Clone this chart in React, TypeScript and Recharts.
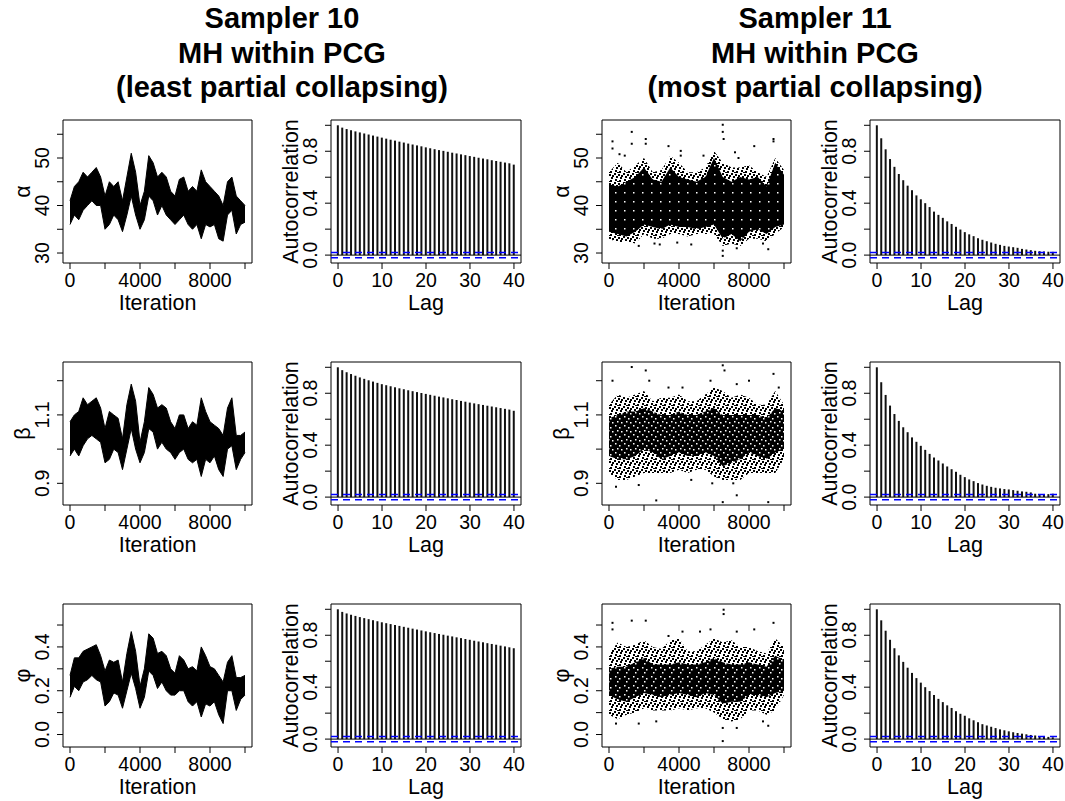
import React from "react";
import {
  ComposedChart,
  Area,
  Bar,
  Scatter,
  XAxis,
  YAxis,
  ReferenceLine,
  ReferenceArea,
} from "recharts";

const FONT = '"Liberation Sans", Arial, Helvetica, sans-serif';

// ---- iteration grids and lags ----
const ITER_250 = [
  0, 250, 500, 750, 1000, 1250, 1500, 1750, 2000, 2250, 2500, 2750, 3000, 3250, 3500, 3750, 4000,
  4250, 4500, 4750, 5000, 5250, 5500, 5750, 6000, 6250, 6500, 6750, 7000, 7250, 7500, 7750, 8000,
  8250, 8500, 8750, 9000, 9250, 9500, 9750, 10000,
];
const ITER_500 = [
  0, 500, 1000, 1500, 2000, 2500, 3000, 3500, 4000, 4500, 5000, 5500, 6000, 6500, 7000, 7500, 8000,
  8500, 9000, 9500, 10000,
];
const LAGS = [
  0, 1, 2, 3, 4, 5, 6, 7, 8, 9, 10, 11, 12, 13, 14, 15, 16, 17, 18, 19, 20, 21, 22, 23, 24, 25, 26,
  27, 28, 29, 30, 31, 32, 33, 34, 35, 36, 37, 38, 39, 40,
];

// ---- Sampler 10 traces (band low / high every 250 iterations) ----
const S10_ALPHA_LO = [36, 38, 37, 39, 40, 41, 40, 40, 35, 36, 38, 37, 34.5, 38, 42, 38, 35, 37, 42, 41, 38, 40, 38, 37, 36, 37, 38, 36, 35, 36, 33, 36, 35.5, 36, 33, 32.5, 38, 39, 34, 36, 36.5];
const S10_ALPHA_HI = [41, 44, 45, 47, 46, 47, 48, 46, 42, 45, 44, 45, 41, 46, 51, 47, 40, 43, 50.5, 49, 46, 47, 46, 43, 42, 45.5, 46, 43, 44, 43, 47.5, 45, 44, 43, 42, 40, 45, 46, 42, 41, 40];
const S10_BETA_LO = [0.98, 1.0, 0.98, 1.01, 1.03, 1.04, 1.03, 1.02, 0.96, 0.97, 1.0, 0.99, 0.94, 1.0, 1.06, 1.0, 0.96, 0.99, 1.06, 1.05, 1.0, 1.02, 1.0, 0.99, 0.97, 0.99, 1.0, 0.97, 0.96, 0.97, 0.92, 0.97, 0.96, 0.98, 0.94, 0.92, 1.0, 1.01, 0.94, 0.97, 0.99];
const S10_BETA_HI = [1.08, 1.1, 1.11, 1.15, 1.13, 1.14, 1.15, 1.12, 1.06, 1.11, 1.1, 1.09, 1.03, 1.13, 1.19, 1.14, 1.02, 1.08, 1.18, 1.16, 1.12, 1.13, 1.12, 1.08, 1.06, 1.1, 1.1, 1.06, 1.08, 1.07, 1.15, 1.11, 1.08, 1.07, 1.06, 1.04, 1.12, 1.15, 1.04, 1.04, 1.05];
const S10_PHI_LO = [0.17, 0.22, 0.2, 0.24, 0.25, 0.27, 0.25, 0.24, 0.13, 0.15, 0.19, 0.18, 0.12, 0.2, 0.28, 0.21, 0.12, 0.17, 0.29, 0.27, 0.21, 0.24, 0.2, 0.18, 0.18, 0.2, 0.2, 0.15, 0.13, 0.15, 0.08, 0.14, 0.13, 0.15, 0.09, 0.05, 0.2, 0.2, 0.11, 0.16, 0.18];
const S10_PHI_HI = [0.27, 0.35, 0.35, 0.38, 0.39, 0.4, 0.41, 0.36, 0.29, 0.34, 0.33, 0.34, 0.24, 0.37, 0.47, 0.38, 0.22, 0.3, 0.46, 0.44, 0.37, 0.38, 0.36, 0.3, 0.28, 0.36, 0.34, 0.3, 0.31, 0.29, 0.4, 0.36, 0.31, 0.3, 0.27, 0.24, 0.33, 0.36, 0.26, 0.26, 0.27];

// ---- Sampler 11 traces (dense core and sparse outer cloud every 500 iterations) ----
const S11_ALPHA_CORE_LO = [34.5, 34, 33.5, 34.5, 36, 35.5, 35, 36, 35.5, 35.5, 35, 35.5, 36, 33, 34, 32.5, 34.5, 35, 34, 35.5, 36];
const S11_ALPHA_CORE_HI = [44.5, 44, 45, 46, 48, 45.5, 45, 48, 46, 45.5, 45, 46, 50, 46, 45, 46, 45.5, 46, 44, 49, 46.5];
const S11_ALPHA_OUT_LO = [33, 32.2, 32.5, 32, 34, 33, 33, 34, 34, 33.5, 34, 34, 34, 31.5, 32, 31.5, 33, 33, 32.5, 34, 35.5];
const S11_ALPHA_OUT_HI = [47, 49, 47, 48.5, 50, 47, 47.5, 50.5, 49, 47, 47, 48, 51.5, 49, 48, 48, 48.5, 47, 46, 50, 47.5];
const S11_ALPHA_DOT_X = [200, 200, 600, 900, 1300, 1300, 1700, 2100, 2100, 2600, 2900, 3400, 3900, 4100, 4100, 4700, 5400, 6500, 6500, 6550, 6500, 6500, 7200, 7300, 7400, 8300, 8800, 9100, 9400, 9400];
const S11_ALPHA_DOT_Y = [53.5, 52, 50.8, 50.5, 55.5, 53, 31.5, 54, 53, 32, 31.8, 52.5, 32.2, 51.5, 50.5, 31.8, 50.5, 57, 55.5, 54, 30.5, 29.4, 51.2, 31, 50, 52.5, 32, 30.8, 54, 53.5];

const S11_BETA_CORE_LO = [0.98, 0.97, 0.97, 0.98, 1.0, 0.99, 0.97, 0.98, 0.99, 0.98, 0.98, 0.99, 0.98, 0.95, 0.96, 0.97, 0.99, 0.98, 0.97, 0.99, 1.0];
const S11_BETA_CORE_HI = [1.09, 1.1, 1.11, 1.11, 1.12, 1.11, 1.1, 1.1, 1.11, 1.1, 1.1, 1.11, 1.12, 1.1, 1.1, 1.1, 1.1, 1.1, 1.09, 1.12, 1.11];
const S11_BETA_OUT_LO = [0.93, 0.91, 0.91, 0.92, 0.93, 0.93, 0.93, 0.93, 0.94, 0.93, 0.94, 0.94, 0.92, 0.91, 0.91, 0.91, 0.93, 0.93, 0.93, 0.93, 0.97];
const S11_BETA_OUT_HI = [1.13, 1.16, 1.15, 1.16, 1.17, 1.14, 1.15, 1.15, 1.16, 1.14, 1.14, 1.16, 1.18, 1.17, 1.15, 1.16, 1.15, 1.13, 1.13, 1.17, 1.13];
const S11_BETA_DOT_X = [200, 400, 1300, 1700, 2100, 2300, 2700, 3400, 4200, 4700, 5800, 5900, 6500, 6500, 6600, 7100, 7300, 7300, 8000, 9100, 9400, 9700];
const S11_BETA_DOT_Y = [1.2, 0.89, 1.24, 0.895, 1.23, 1.2, 0.85, 1.18, 1.18, 0.91, 1.2, 0.9, 1.245, 0.845, 1.23, 0.9, 1.19, 0.865, 1.2, 0.845, 1.22, 1.18];

const S11_PHI_CORE_LO = [0.18, 0.16, 0.15, 0.17, 0.19, 0.18, 0.17, 0.18, 0.19, 0.18, 0.17, 0.19, 0.18, 0.14, 0.15, 0.15, 0.18, 0.18, 0.17, 0.19, 0.2];
const S11_PHI_CORE_HI = [0.3, 0.31, 0.31, 0.33, 0.35, 0.32, 0.32, 0.32, 0.33, 0.32, 0.32, 0.33, 0.35, 0.33, 0.32, 0.32, 0.33, 0.32, 0.31, 0.36, 0.34];
const S11_PHI_OUT_LO = [0.09, 0.07, 0.09, 0.1, 0.12, 0.11, 0.11, 0.11, 0.12, 0.11, 0.12, 0.12, 0.1, 0.07, 0.06, 0.07, 0.11, 0.11, 0.09, 0.11, 0.18];
const S11_PHI_OUT_HI = [0.37, 0.42, 0.4, 0.41, 0.43, 0.4, 0.39, 0.43, 0.44, 0.38, 0.38, 0.41, 0.44, 0.42, 0.43, 0.4, 0.4, 0.38, 0.37, 0.44, 0.4];
const S11_PHI_DOT_X = [200, 200, 400, 1300, 1700, 2100, 2700, 3400, 4200, 5200, 5800, 6500, 6500, 6550, 6550, 7300, 7300, 8300, 8800, 9100, 9400];
const S11_PHI_DOT_Y = [0.51, 0.48, 0.05, 0.52, 0.05, 0.52, 0.06, 0.45, 0.47, 0.47, 0.48, -0.03, 0.03, 0.57, 0.55, 0.03, 0.47, 0.48, 0.06, 0.04, 0.51];

// ---- autocorrelations, lags 0..40 ----
const ACF10_ALPHA = [1.0, 0.982, 0.971, 0.962, 0.953, 0.945, 0.937, 0.929, 0.921, 0.913, 0.905, 0.897, 0.889, 0.882, 0.874, 0.867, 0.859, 0.852, 0.845, 0.838, 0.83, 0.823, 0.816, 0.809, 0.803, 0.796, 0.789, 0.783, 0.776, 0.77, 0.763, 0.757, 0.75, 0.744, 0.738, 0.731, 0.725, 0.719, 0.713, 0.707, 0.697];
const ACF10_BETA = [1.0, 0.978, 0.962, 0.948, 0.935, 0.922, 0.911, 0.9, 0.89, 0.88, 0.87, 0.862, 0.854, 0.846, 0.838, 0.831, 0.823, 0.816, 0.809, 0.802, 0.795, 0.788, 0.781, 0.774, 0.768, 0.761, 0.754, 0.748, 0.741, 0.735, 0.728, 0.722, 0.716, 0.71, 0.704, 0.698, 0.692, 0.686, 0.68, 0.674, 0.665];
const ACF10_PHI = [1.0, 0.98, 0.968, 0.958, 0.949, 0.94, 0.932, 0.924, 0.916, 0.908, 0.9, 0.893, 0.886, 0.879, 0.872, 0.865, 0.858, 0.851, 0.844, 0.837, 0.83, 0.823, 0.817, 0.81, 0.804, 0.797, 0.791, 0.784, 0.778, 0.771, 0.765, 0.758, 0.752, 0.746, 0.739, 0.733, 0.727, 0.72, 0.714, 0.707, 0.7];
const ACF11_ALPHA = [1.0, 0.9, 0.815, 0.74, 0.68, 0.625, 0.577, 0.535, 0.5, 0.46, 0.43, 0.4, 0.37, 0.335, 0.31, 0.287, 0.26, 0.24, 0.218, 0.197, 0.177, 0.16, 0.146, 0.13, 0.118, 0.107, 0.097, 0.087, 0.079, 0.071, 0.066, 0.061, 0.056, 0.048, 0.043, 0.038, 0.033, 0.03, 0.028, 0.026, 0.025];
const ACF11_BETA = [1.0, 0.885, 0.787, 0.705, 0.64, 0.587, 0.538, 0.5, 0.46, 0.426, 0.395, 0.364, 0.333, 0.305, 0.282, 0.259, 0.236, 0.215, 0.195, 0.172, 0.154, 0.136, 0.123, 0.108, 0.097, 0.087, 0.079, 0.072, 0.067, 0.062, 0.059, 0.054, 0.049, 0.044, 0.041, 0.036, 0.026, 0.023, 0.02, 0.023, 0.026];
const ACF11_PHI = [1.0, 0.915, 0.835, 0.765, 0.7, 0.645, 0.595, 0.55, 0.51, 0.47, 0.435, 0.4, 0.37, 0.34, 0.31, 0.285, 0.26, 0.24, 0.215, 0.195, 0.18, 0.16, 0.145, 0.13, 0.115, 0.105, 0.095, 0.085, 0.075, 0.068, 0.06, 0.053, 0.047, 0.042, 0.037, 0.032, 0.028, 0.024, 0.02, 0.017, 0.014];

const CONF = 0.02; // 2/sqrt(10000)

const TITLES_10 = ["Sampler 10", "MH within PCG", "(least partial collapsing)"];
const TITLES_11 = ["Sampler 11", "MH within PCG", "(most partial collapsing)"];

// ---- axis setups ----
type AxisSpec = { domain: [number, number]; ticks: number[]; labels: Record<string, string> };

const X_ITER: AxisSpec = { domain: [-400, 10400], ticks: [0, 2000, 4000, 6000, 8000, 10000], labels: { "0": "0", "4000": "4000", "8000": "8000" } };
const X_LAG: AxisSpec = { domain: [-1.6, 41.6], ticks: [0, 10, 20, 30, 40], labels: { "0": "0", "10": "10", "20": "20", "30": "30", "40": "40" } };
const Y_ACF: AxisSpec = { domain: [-0.0608, 1.0408], ticks: [0, 0.2, 0.4, 0.6, 0.8, 1.0], labels: { "0": "0.0", "0.4": "0.4", "0.8": "0.8" } };
const Y_ALPHA: AxisSpec = { domain: [27.9, 58.0], ticks: [30, 35, 40, 45, 50, 55], labels: { "30": "30", "40": "40", "50": "50" } };
const Y_BETA: AxisSpec = { domain: [0.8366, 1.2547], ticks: [0.9, 1.0, 1.1, 1.2], labels: { "0.9": "0.9", "1.1": "1.1" } };
const Y_PHI: AxisSpec = { domain: [-0.057, 0.596], ticks: [0, 0.1, 0.2, 0.3, 0.4, 0.5], labels: { "0": "0.0", "0.2": "0.2", "0.4": "0.4" } };

const COL_X = { tr10: 63, acf10: 331, tr11: 602, acf11: 870 };
const ROW_Y = [120, 362, 604];
const BOX_H = 143;
const TICK_FS = 19.5;
const LAB_FS = 21.5;

const fmtKey = (v: number) => String(Math.round(v * 1000) / 1000);

function Frame({
  left,
  top,
  w,
  data,
  xs,
  ys,
  xTitle,
  yTitle,
  children,
}: {
  left: number;
  top: number;
  w: number;
  data: any[];
  xs: AxisSpec;
  ys: AxisSpec;
  xTitle: string;
  yTitle: string;
  children: React.ReactNode;
}) {
  const YW = 60;
  const XH = 56;
  const MT = 10;
  const MR = 10;
  return (
    <div style={{ position: "absolute", left: left - YW, top: top - MT }}>
      <ComposedChart
        width={YW + w + MR}
        height={MT + BOX_H + XH}
        data={data}
        margin={{ top: MT, right: MR, bottom: 0, left: 0 }}
      >
        <XAxis
          type="number"
          dataKey="x"
          domain={xs.domain}
          ticks={xs.ticks}
          interval={0}
          allowDataOverflow
          height={XH}
          axisLine={false}
          tickSize={6}
          tickMargin={2}
          stroke="#000"
          tick={(p: any) => (
            <text x={p.x} y={p.y + 16} textAnchor="middle" fontSize={TICK_FS} fontFamily={FONT} fill="#000">
              {xs.labels[fmtKey(p.payload.value)] ?? ""}
            </text>
          )}
          label={(p: any) => {
            const vb = p.viewBox;
            return (
              <text x={vb.x + vb.width / 2} y={vb.y + 47} textAnchor="middle" fontSize={LAB_FS} fontFamily={FONT} fill="#000">
                {xTitle}
              </text>
            );
          }}
        />
        <YAxis
          type="number"
          dataKey="y"
          domain={ys.domain}
          ticks={ys.ticks}
          interval={0}
          allowDataOverflow
          width={YW}
          axisLine={false}
          tickSize={6}
          tickMargin={2}
          stroke="#000"
          tick={(p: any) => (
            <text
              x={p.x - 6}
              y={p.y}
              transform={`rotate(-90 ${p.x - 6} ${p.y})`}
              textAnchor="middle"
              fontSize={TICK_FS}
              fontFamily={FONT}
              fill="#000"
            >
              {ys.labels[fmtKey(p.payload.value)] ?? ""}
            </text>
          )}
          label={(p: any) => {
            const vb = p.viewBox;
            const tx = vb.x + vb.width - 33;
            const ty = vb.y + vb.height / 2;
            return (
              <text x={tx} y={ty} transform={`rotate(-90 ${tx} ${ty})`} textAnchor="middle" fontSize={LAB_FS} fontFamily={FONT} fill="#000">
                {yTitle}
              </text>
            );
          }}
        />
        {children}
        <ReferenceArea
          x1={xs.domain[0]}
          x2={xs.domain[1]}
          y1={ys.domain[0]}
          y2={ys.domain[1]}
          fill="none"
          stroke="#000"
          strokeWidth={1}
          ifOverflow="visible"
        />
      </ComposedChart>
    </div>
  );
}

const dotShape = (p: any) => <rect x={p.cx - 1} y={p.cy - 1} width={2} height={2} fill="#000" />;

// speckle textures that stand in for thousands of overplotted draws
const SPARSE_SPECKS = [
  [0, 0], [4, 1], [2, 3], [6, 4], [1, 6], [5, 7], [3, 8], [7, 2],
];
const CORE_HOLES = [
  [1, 1], [5, 3], [3, 6], [7, 7],
];

function Speckles({ id, holes }: { id: string; holes: number }) {
  return (
    <defs>
      <pattern id={`${id}-out`} width={9} height={9} patternUnits="userSpaceOnUse">
        {SPARSE_SPECKS.map(([x, y], i) => (
          <rect key={i} x={x} y={y} width={2} height={2} fill="#000" />
        ))}
      </pattern>
      <pattern id={`${id}-core`} width={9} height={9} patternUnits="userSpaceOnUse">
        <rect x={0} y={0} width={9} height={9} fill="#000" />
        {CORE_HOLES.slice(0, holes).map(([x, y], i) => (
          <rect key={i} x={x} y={y} width={1.5} height={1.5} fill="#fff" />
        ))}
      </pattern>
    </defs>
  );
}

function Trace10({ left, top, ys, yTitle, lo, hi }: { left: number; top: number; ys: AxisSpec; yTitle: string; lo: number[]; hi: number[] }) {
  const data = ITER_250.map((x, i) => ({ x, band: [lo[i], hi[i]] }));
  return (
    <Frame left={left} top={top} w={189} data={data} xs={X_ITER} ys={ys} xTitle="Iteration" yTitle={yTitle}>
      <Area type="linear" dataKey="band" fill="#000" fillOpacity={1} stroke="#000" strokeWidth={1} dot={false} activeDot={false} isAnimationActive={false} />
    </Frame>
  );
}

function Trace11({
  id,
  left,
  top,
  ys,
  yTitle,
  coreLo,
  coreHi,
  outLo,
  outHi,
  dotX,
  dotY,
  holes,
}: {
  id: string;
  left: number;
  top: number;
  ys: AxisSpec;
  yTitle: string;
  coreLo: number[];
  coreHi: number[];
  outLo: number[];
  outHi: number[];
  dotX: number[];
  dotY: number[];
  holes: number;
}) {
  const data = ITER_500.map((x, i) => ({ x, outer: [outLo[i], outHi[i]], core: [coreLo[i], coreHi[i]] }));
  const dots = dotX.map((x, i) => ({ x, y: dotY[i] }));
  return (
    <Frame left={left} top={top} w={189} data={data} xs={X_ITER} ys={ys} xTitle="Iteration" yTitle={yTitle}>
      <Speckles id={id} holes={holes} />
      <Area type="linear" dataKey="outer" fill={`url(#${id}-out)`} fillOpacity={1} stroke="none" dot={false} activeDot={false} isAnimationActive={false} />
      <Area type="linear" dataKey="core" fill={`url(#${id}-core)`} fillOpacity={1} stroke="none" dot={false} activeDot={false} isAnimationActive={false} />
      <Scatter data={dots} shape={dotShape} isAnimationActive={false} />
    </Frame>
  );
}

function AcfPanel({ left, top, values }: { left: number; top: number; values: number[] }) {
  const data = LAGS.map((x, i) => ({ x, r: values[i] }));
  return (
    <Frame left={left} top={top} w={190} data={data} xs={X_LAG} ys={Y_ACF} xTitle="Lag" yTitle="Autocorrelation">
      <Bar dataKey="r" barSize={2} fill="#111" isAnimationActive={false} />
      <ReferenceLine y={0} stroke="#000" strokeWidth={1} ifOverflow="visible" />
      <ReferenceLine y={CONF} stroke="#0000ff" strokeWidth={1.5} strokeDasharray="7 5" ifOverflow="visible" />
      <ReferenceLine y={-CONF} stroke="#0000ff" strokeWidth={1.5} strokeDasharray="7 5" ifOverflow="visible" />
    </Frame>
  );
}

function Titles() {
  return (
    <svg width={1065} height={110} style={{ position: "absolute", left: 0, top: 0 }}>
      {TITLES_10.map((t, i) => (
        <text key={"a" + i} x={282} y={28 + i * 34.5} textAnchor="middle" fontSize={29} fontWeight="bold" fontFamily={FONT}>
          {t}
        </text>
      ))}
      {TITLES_11.map((t, i) => (
        <text key={"b" + i} x={815} y={28 + i * 34.5} textAnchor="middle" fontSize={29} fontWeight="bold" fontFamily={FONT}>
          {t}
        </text>
      ))}
    </svg>
  );
}

export default function App() {
  return (
    <div style={{ position: "absolute", left: 0, top: 0, width: 1065, height: 801, background: "#fff", fontFamily: FONT }}>
      <Titles />

      <Trace10 left={COL_X.tr10} top={ROW_Y[0]} ys={Y_ALPHA} yTitle="α" lo={S10_ALPHA_LO} hi={S10_ALPHA_HI} />
      <AcfPanel left={COL_X.acf10} top={ROW_Y[0]} values={ACF10_ALPHA} />
      <Trace11
        id="s11a"
        left={COL_X.tr11}
        top={ROW_Y[0]}
        ys={Y_ALPHA}
        yTitle="α"
        coreLo={S11_ALPHA_CORE_LO}
        coreHi={S11_ALPHA_CORE_HI}
        outLo={S11_ALPHA_OUT_LO}
        outHi={S11_ALPHA_OUT_HI}
        dotX={S11_ALPHA_DOT_X}
        dotY={S11_ALPHA_DOT_Y}
        holes={1}
      />
      <AcfPanel left={COL_X.acf11} top={ROW_Y[0]} values={ACF11_ALPHA} />

      <Trace10 left={COL_X.tr10} top={ROW_Y[1]} ys={Y_BETA} yTitle="β" lo={S10_BETA_LO} hi={S10_BETA_HI} />
      <AcfPanel left={COL_X.acf10} top={ROW_Y[1]} values={ACF10_BETA} />
      <Trace11
        id="s11b"
        left={COL_X.tr11}
        top={ROW_Y[1]}
        ys={Y_BETA}
        yTitle="β"
        coreLo={S11_BETA_CORE_LO}
        coreHi={S11_BETA_CORE_HI}
        outLo={S11_BETA_OUT_LO}
        outHi={S11_BETA_OUT_HI}
        dotX={S11_BETA_DOT_X}
        dotY={S11_BETA_DOT_Y}
        holes={4}
      />
      <AcfPanel left={COL_X.acf11} top={ROW_Y[1]} values={ACF11_BETA} />

      <Trace10 left={COL_X.tr10} top={ROW_Y[2]} ys={Y_PHI} yTitle="φ" lo={S10_PHI_LO} hi={S10_PHI_HI} />
      <AcfPanel left={COL_X.acf10} top={ROW_Y[2]} values={ACF10_PHI} />
      <Trace11
        id="s11p"
        left={COL_X.tr11}
        top={ROW_Y[2]}
        ys={Y_PHI}
        yTitle="φ"
        coreLo={S11_PHI_CORE_LO}
        coreHi={S11_PHI_CORE_HI}
        outLo={S11_PHI_OUT_LO}
        outHi={S11_PHI_OUT_HI}
        dotX={S11_PHI_DOT_X}
        dotY={S11_PHI_DOT_Y}
        holes={3}
      />
      <AcfPanel left={COL_X.acf11} top={ROW_Y[2]} values={ACF11_PHI} />
    </div>
  );
}
